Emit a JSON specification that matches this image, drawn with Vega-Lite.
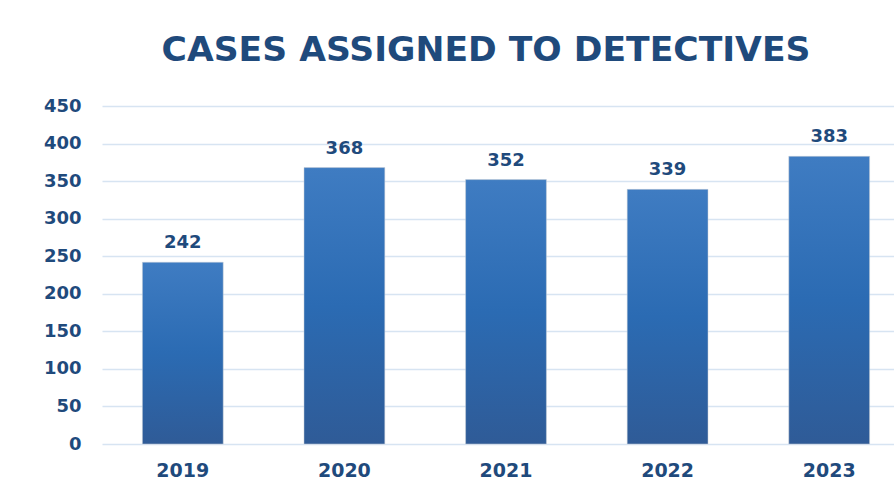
{
  "$schema": "https://vega.github.io/schema/vega-lite/v6.json",
  "autosize": "none",
  "width": 792,
  "height": 338,
  "padding": {"left": 102, "top": 106, "right": 0, "bottom": 35},
  "background": "white",
  "title": {
    "text": "CASES ASSIGNED TO DETECTIVES",
    "font": "DejaVu Sans",
    "fontSize": 34.6,
    "fontWeight": "bold",
    "color": "#1f4a7c",
    "anchor": "middle",
    "dx": -12,
    "offset": 28
  },
  "data": {
    "values": [
      {"year": "2019", "cases": 242},
      {"year": "2020", "cases": 368},
      {"year": "2021", "cases": 352},
      {"year": "2022", "cases": 339},
      {"year": "2023", "cases": 383}
    ]
  },
  "config": {
    "view": {"stroke": null},
    "axis": {
      "labelFont": "DejaVu Sans",
      "labelFontWeight": "bold",
      "labelColor": "#1f4a7c",
      "domain": false,
      "ticks": false,
      "title": null
    }
  },
  "encoding": {
    "x": {
      "field": "year",
      "type": "nominal",
      "scale": {"range": [0, 808], "paddingInner": 0.5, "paddingOuter": 0.25},
      "axis": {"labelAngle": 0, "labelFontSize": 19, "labelPadding": 17, "grid": false}
    },
    "y": {
      "field": "cases",
      "type": "quantitative",
      "scale": {"domain": [0, 450], "nice": false},
      "axis": {
        "values": [0, 50, 100, 150, 200, 250, 300, 350, 400, 450],
        "labelFontSize": 18,
        "labelPadding": 21,
        "grid": true,
        "gridColor": "#d7e4f2",
        "gridWidth": 1.5
      }
    }
  },
  "layer": [
    {
      "mark": {
        "type": "bar",
        "stroke": "#c9ced6",
        "strokeWidth": 0.5,
        "color": {
          "gradient": "linear",
          "x1": 0, "y1": 0, "x2": 0, "y2": 1,
          "stops": [
            {"offset": 0, "color": "#3f7cc2"},
            {"offset": 0.5, "color": "#2b6bb3"},
            {"offset": 1, "color": "#2f5b97"}
          ]
        }
      }
    },
    {
      "mark": {
        "type": "text",
        "font": "DejaVu Sans",
        "fontSize": 18,
        "fontWeight": "bold",
        "color": "#1f4a7c",
        "baseline": "alphabetic",
        "dy": -14
      },
      "encoding": {"text": {"field": "cases", "type": "quantitative"}}
    }
  ]
}
